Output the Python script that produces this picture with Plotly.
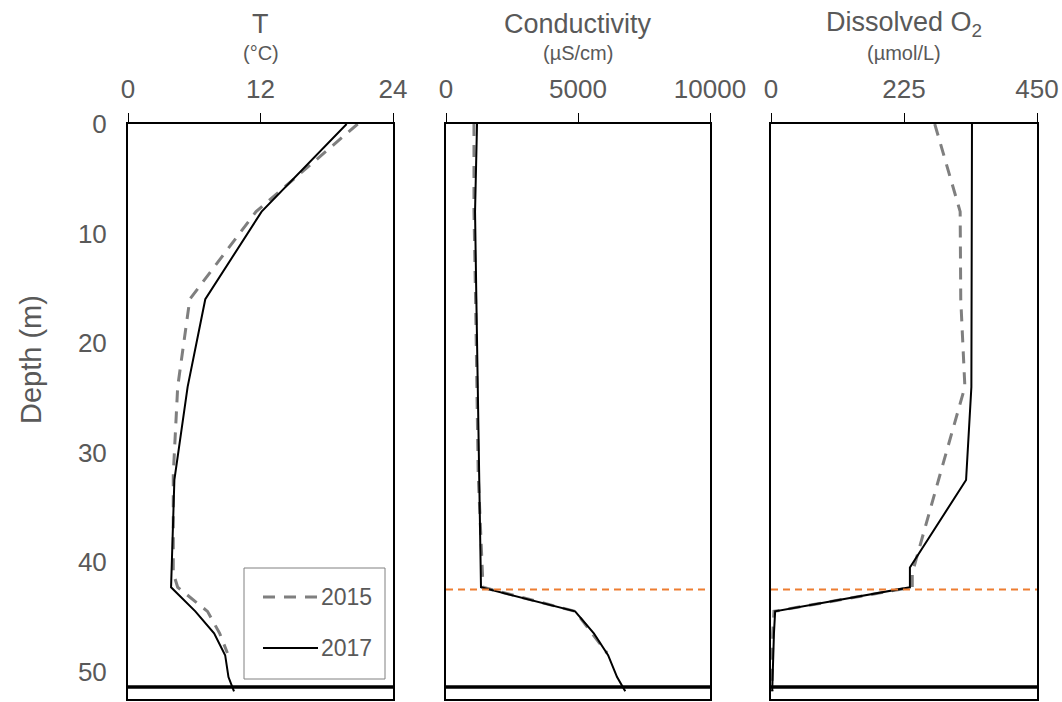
import plotly.graph_objects as go

# ---------------- data ----------------
depth_2017 = [0, 8, 16, 24, 32.5, 40.5, 42.3, 44.5, 46.5, 48.5, 50.5, 51.8]
temp_2017 = [19.8, 12.1, 7.0, 5.4, 4.2, 4.0, 3.9, 6.1, 7.8, 8.8, 9.1, 9.6]
cond_2017 = [1175, 1100, 1150, 1200, 1240, 1300, 1325, 4890, 5600, 6140, 6480, 6790]
oxy_2017 = [340, 340, 339, 339, 330, 235, 235, 7, 5, 4, 3, 2]

depth_2015 = [0, 8, 16, 24, 32, 41, 42.3, 44.5, 46.5, 48.3, 50.5, 51.8]
temp_2015 = [20.8, 11.6, 5.6, 4.5, 4.1, 4.1, 4.5, 7.2, 8.3, 9.0, None, None]
cond_2015 = [1060, 1060, 1120, 1170, 1220, 1380, 1400, 4900, 5540, 6100, None, None]
oxy_2015 = [277, 320, 321, 328, 286, 239, 239, 5, 3, 2, 2, 2]

interface_depth = 42.5   # orange dashed line (panels 2 and 3)
bottom_depth = 51.4      # thick black line (all panels)

panel_titles = ["T", "Conductivity", "Dissolved O<sub>2</sub>"]
panel_units = ["(°C)", "(µS/cm)", "(µmol/L)"]
x_ranges = [[0, 24], [0, 10000], [0, 450]]
x_ticks = [[0, 12, 24], [0, 5000, 10000], [0, 225, 450]]
x_ticktext = [["0", "12", "24"], ["0", "5000", "10000"], ["0", "225", "450"]]
depth_ticks = [0, 10, 20, 30, 40, 50]
depth_range = [52.5, 0]
series_names = ["2015", "2017"]

# ---------------- styling ----------------
W, H = 1062, 702
GRAY_TXT = "#595959"
FONT = "Liberation Sans, Arial, sans-serif"
x_domains = [[128 / W, 393 / W], [446 / W, 710 / W], [771 / W, 1037 / W]]
y_domain = [3 / H, 1 - 124 / H]
DASH_2015 = dict(color="#7f7f7f", width=3, dash="12px,9px")
SOLID_2017 = dict(color="black", width=2)

fig = go.Figure()

vals_2015 = [temp_2015, cond_2015, oxy_2015]
vals_2017 = [temp_2017, cond_2017, oxy_2017]

for i in range(3):
    xa = "x" if i == 0 else f"x{i+1}"
    ya = "y" if i == 0 else f"y{i+1}"
    fig.add_trace(go.Scatter(
        x=vals_2015[i], y=depth_2015, mode="lines", name=series_names[0],
        line=DASH_2015, xaxis=xa, yaxis=ya, showlegend=False,
        connectgaps=False,
    ))
    fig.add_trace(go.Scatter(
        x=vals_2017[i], y=depth_2017, mode="lines", name=series_names[1],
        line=SOLID_2017, xaxis=xa, yaxis=ya, showlegend=False,
    ))

layout = dict(
    width=W, height=H,
    margin=dict(l=0, r=0, t=0, b=0),
    paper_bgcolor="white", plot_bgcolor="white",
    font=dict(family=FONT, color=GRAY_TXT, size=23),
    showlegend=False,
)

for i in range(3):
    sfx = "" if i == 0 else str(i + 1)
    layout["xaxis" + sfx] = dict(
        domain=x_domains[i], range=x_ranges[i], side="top",
        tickvals=x_ticks[i], ticktext=x_ticktext[i], ticks="outside",
        ticklen=9, tickwidth=1,
        tickcolor="black", showline=True, linecolor="black", linewidth=2,
        mirror=True, showgrid=False, zeroline=False, automargin=False,
        tickfont=dict(size=26, color=GRAY_TXT, family=FONT), ticklabelstandoff=5,
        anchor="y" + sfx,
    )
    layout["yaxis" + sfx] = dict(
        domain=y_domain, range=depth_range, tickvals=depth_ticks,
        showticklabels=(i == 0), ticks="", showline=True, linecolor="black",
        linewidth=2, mirror=True, showgrid=False, zeroline=False,
        automargin=False, tickfont=dict(size=26, color=GRAY_TXT, family=FONT),
        ticklabelstandoff=14, anchor="x" + sfx,
    )

fig.update_layout(**layout)

shapes = []
annotations = []
for i in range(3):
    sfx = "" if i == 0 else str(i + 1)
    shapes.append(dict(
        type="line", xref=f"x{sfx} domain", yref=f"y{sfx}",
        x0=0, x1=1, y0=bottom_depth, y1=bottom_depth,
        line=dict(color="black", width=3.5),
    ))
    if i > 0:
        shapes.append(dict(
            type="line", xref=f"x{sfx} domain", yref=f"y{sfx}",
            x0=0, x1=1, y0=interface_depth, y1=interface_depth,
            line=dict(color="#ED7D31", width=2, dash="7px,5px"),
        ))
    annotations.append(dict(
        text=panel_titles[i], xref=f"x{sfx} domain", yref="paper",
        x=0.5, y=1 - 24 / H, showarrow=False, xanchor="center", yanchor="middle",
        font=dict(size=27, color=GRAY_TXT, family=FONT),
    ))
    annotations.append(dict(
        text=panel_units[i], xref=f"x{sfx} domain", yref="paper",
        x=0.5, y=1 - 53 / H, showarrow=False, xanchor="center", yanchor="middle",
        font=dict(size=20, color=GRAY_TXT, family=FONT),
    ))

annotations.append(dict(
    text="Depth (m)", xref="paper", yref="paper", x=31 / W, y=1 - 360 / H,
    textangle=-90, showarrow=False, xanchor="center", yanchor="middle",
    font=dict(size=29, color=GRAY_TXT, family=FONT),
))

# ---- legend box (drawn in pixel-based paper coordinates) ----
def px(x):
    return x / W

def py(y):
    return 1 - y / H

shapes.append(dict(type="rect", xref="paper", yref="paper",
                   x0=px(244), x1=px(385), y0=py(679), y1=py(568),
                   line=dict(color="#808080", width=1), fillcolor="white",
                   layer="above"))
legend_rows = [(597, DASH_2015, series_names[0]), (648, SOLID_2017, series_names[1])]
for yrow, style, name in legend_rows:
    shapes.append(dict(type="line", xref="paper", yref="paper",
                       x0=px(263), x1=px(318), y0=py(yrow), y1=py(yrow),
                       line=style, layer="above"))
    annotations.append(dict(text=name, xref="paper", yref="paper",
                            x=px(319), y=py(yrow), xanchor="left", yanchor="middle",
                            showarrow=False,
                            font=dict(size=23, color=GRAY_TXT, family=FONT)))

fig.update_layout(shapes=shapes, annotations=annotations)
fig.write_html("out.html", config={"displayModeBar": False},
               post_script="document.body.style.margin='0px';")
